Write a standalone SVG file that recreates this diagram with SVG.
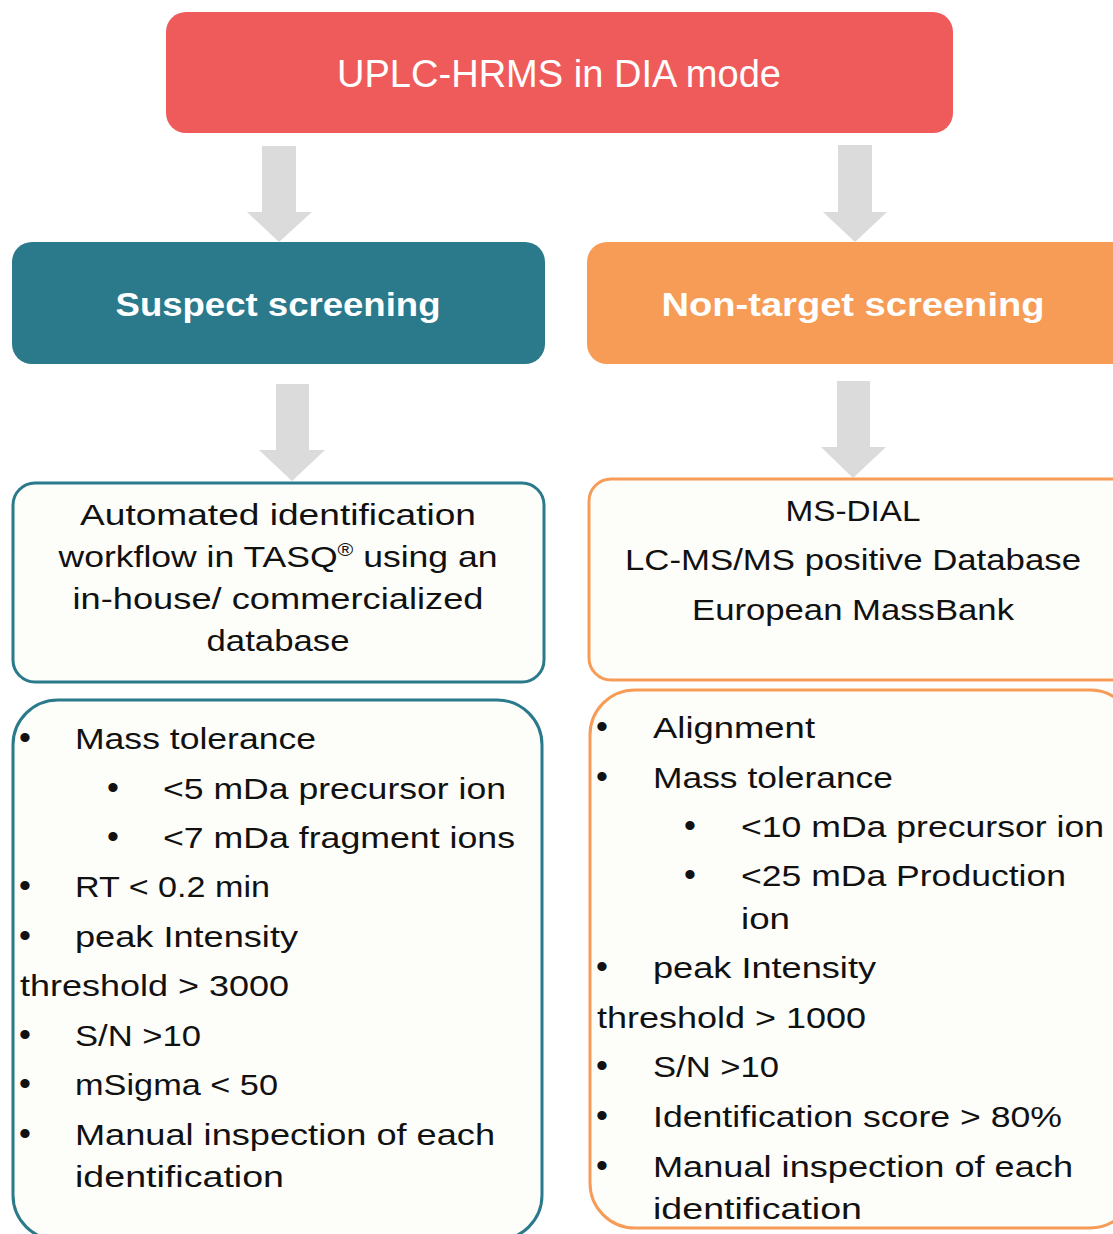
<svg xmlns="http://www.w3.org/2000/svg" width="1113" height="1234" viewBox="0 0 1113 1234">
<style>
.t{font-family:"Liberation Sans",Arial,sans-serif;font-size:30px;fill:#111}
.b{font-family:"Liberation Sans",Arial,sans-serif;font-size:34px;fill:#111}
.c{text-anchor:middle}
.hd{font-family:"Liberation Sans",Arial,sans-serif;fill:#fff;text-anchor:middle}
.arr{fill:#DCDBDC}
.wt{fill:#FDFDFA;stroke-width:3}
</style>
<rect width="1113" height="1234" fill="#fff"/>
<g id="connectors">
<path class="arr" d="M262,146 H296 V212 H312 L279,242 L247,212 H262 Z"/>
<path class="arr" d="M838,145 H872 V212 H887 L855,242 L823,212 H838 Z"/>
<path class="arr" d="M276,384 H309 V450 H325 L292,481 L259,450 H276 Z"/>
<path class="arr" d="M837,381 H870 V447 H886 L853,478 L821,447 H837 Z"/>
</g>
<g id="top">
<rect x="166" y="12" width="787" height="121" rx="20" fill="#EF5B5B"/>
<text class="hd" x="559" y="87" font-size="39" textLength="444" lengthAdjust="spacingAndGlyphs">UPLC-HRMS in DIA mode</text>
</g>
<g id="suspect">
<rect x="12" y="242" width="533" height="122" rx="20" fill="#2A7A8C"/>
<text class="hd" x="278" y="316" font-size="34" font-weight="bold" textLength="325" lengthAdjust="spacingAndGlyphs">Suspect screening</text>
</g>
<g id="nontarget">
<rect x="587" y="242" width="546" height="122" rx="20" fill="#F79C56"/>
<text class="hd" x="853" y="316" font-size="34" font-weight="bold" textLength="383" lengthAdjust="spacingAndGlyphs">Non-target screening</text>
</g>
<g id="tasq">
<rect class="wt" x="13" y="483" width="531" height="199" rx="22" stroke="#2A7A8C"/>
<text class="t c" x="278" y="525" textLength="396" lengthAdjust="spacingAndGlyphs">Automated identification</text>
<text class="t c" x="278" y="567" textLength="439" lengthAdjust="spacingAndGlyphs">workflow in TASQ<tspan font-size="18" dy="-11">®</tspan><tspan dy="11"> using an</tspan></text>
<text class="t c" x="278" y="609" textLength="411" lengthAdjust="spacingAndGlyphs">in-house/ commercialized</text>
<text class="t c" x="278" y="651" textLength="143" lengthAdjust="spacingAndGlyphs">database</text>
</g>
<g id="msdial">
<rect class="wt" x="589" y="479" width="544" height="201" rx="22" stroke="#F79C56"/>
<text class="t c" x="853" y="521" textLength="135" lengthAdjust="spacingAndGlyphs">MS-DIAL</text>
<text class="t c" x="853" y="570" textLength="456" lengthAdjust="spacingAndGlyphs">LC-MS/MS positive Database</text>
<text class="t c" x="853" y="620" textLength="322" lengthAdjust="spacingAndGlyphs">European MassBank</text>
</g>
<g id="suspect-criteria">
<rect class="wt" x="13" y="700" width="529" height="540" rx="45" stroke="#2A7A8C"/>
<text class="b" x="19" y="749">•</text>
<text class="t" x="75" y="749" textLength="241" lengthAdjust="spacingAndGlyphs">Mass tolerance</text>
<text class="b" x="107" y="799">•</text>
<text class="t" x="163" y="799" textLength="343" lengthAdjust="spacingAndGlyphs">&lt;5 mDa precursor ion</text>
<text class="b" x="107" y="848">•</text>
<text class="t" x="163" y="848" textLength="352" lengthAdjust="spacingAndGlyphs">&lt;7 mDa fragment ions</text>
<text class="b" x="19" y="897">•</text>
<text class="t" x="75" y="897" textLength="195" lengthAdjust="spacingAndGlyphs">RT &lt; 0.2 min</text>
<text class="b" x="19" y="947">•</text>
<text class="t" x="75" y="947" textLength="223" lengthAdjust="spacingAndGlyphs">peak Intensity</text>
<text class="t" x="20" y="996" textLength="269" lengthAdjust="spacingAndGlyphs">threshold &gt; 3000</text>
<text class="b" x="19" y="1046">•</text>
<text class="t" x="75" y="1046" textLength="126" lengthAdjust="spacingAndGlyphs">S/N &gt;10</text>
<text class="b" x="19" y="1095">•</text>
<text class="t" x="75" y="1095" textLength="203" lengthAdjust="spacingAndGlyphs">mSigma &lt; 50</text>
<text class="b" x="19" y="1145">•</text>
<text class="t" x="75" y="1145" textLength="420" lengthAdjust="spacingAndGlyphs">Manual inspection of each</text>
<text class="t" x="75" y="1187" textLength="209" lengthAdjust="spacingAndGlyphs">identification</text>
</g>
<g id="nontarget-criteria">
<rect class="wt" x="590" y="690" width="545" height="538" rx="45" stroke="#F79C56"/>
<text class="b" x="596" y="738">•</text>
<text class="t" x="653" y="738" textLength="162" lengthAdjust="spacingAndGlyphs">Alignment</text>
<text class="b" x="596" y="788">•</text>
<text class="t" x="653" y="788" textLength="240" lengthAdjust="spacingAndGlyphs">Mass tolerance</text>
<text class="b" x="684" y="837">•</text>
<text class="t" x="741" y="837" textLength="363" lengthAdjust="spacingAndGlyphs">&lt;10 mDa precursor ion</text>
<text class="b" x="684" y="886">•</text>
<text class="t" x="741" y="886" textLength="325" lengthAdjust="spacingAndGlyphs">&lt;25 mDa Production</text>
<text class="t" x="741" y="929" textLength="49" lengthAdjust="spacingAndGlyphs">ion</text>
<text class="b" x="596" y="978">•</text>
<text class="t" x="653" y="978" textLength="223" lengthAdjust="spacingAndGlyphs">peak Intensity</text>
<text class="t" x="597" y="1028" textLength="269" lengthAdjust="spacingAndGlyphs">threshold &gt; 1000</text>
<text class="b" x="596" y="1077">•</text>
<text class="t" x="653" y="1077" textLength="126" lengthAdjust="spacingAndGlyphs">S/N &gt;10</text>
<text class="b" x="596" y="1127">•</text>
<text class="t" x="653" y="1127" textLength="409" lengthAdjust="spacingAndGlyphs">Identification score &gt; 80%</text>
<text class="b" x="596" y="1177">•</text>
<text class="t" x="653" y="1177" textLength="420" lengthAdjust="spacingAndGlyphs">Manual inspection of each</text>
<text class="t" x="653" y="1219" textLength="209" lengthAdjust="spacingAndGlyphs">identification</text>
</g>
</svg>
